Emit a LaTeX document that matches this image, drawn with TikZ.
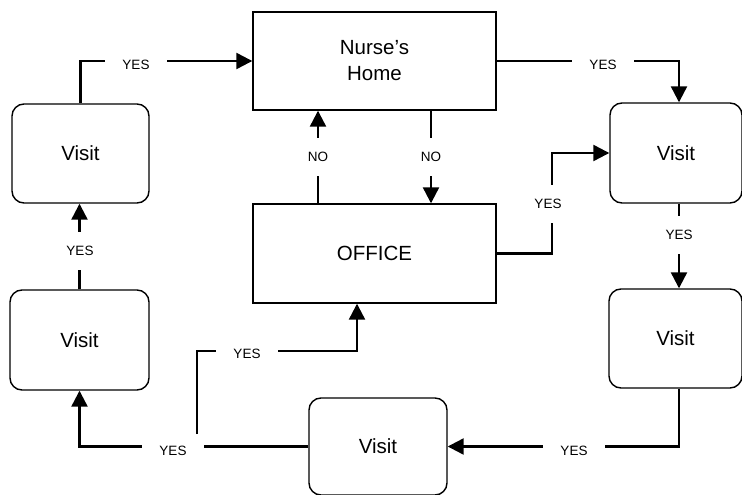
\documentclass[tikz,border=0pt]{standalone}
\usepackage{fontspec}
\setmainfont{Liberation Sans}
\usetikzlibrary{arrows.meta}
\begin{document}
\begin{tikzpicture}[x=1pt,y=-1pt,
  box/.style={draw,line width=1.4pt,inner sep=0pt,align=center,font=\fontsize{20.5}{26}\selectfont},
  rbox/.style={box,rounded corners=12pt},
  conn/.style={line width=2.3pt},
  arr/.style={conn,-{Triangle[length=16pt,width=16pt]}},
  hlab/.style={fill=white,inner xsep=17pt,inner ysep=1pt,font=\fontsize{13.5}{16}\selectfont},
  vlab/.style={fill=white,inner xsep=1pt,inner ysep=14pt,font=\fontsize{13.5}{16}\selectfont},
]
\useasboundingbox (0,0) rectangle (742,495);
% boxes
\node[box,minimum width=243pt,minimum height=98pt] (home) at (374.5,61) {Nurse's\\Home};
\node[box,minimum width=243pt,minimum height=99pt] (office) at (374.5,253.5) {OFFICE};
\node[rbox,minimum width=137pt,minimum height=99pt] (v1) at (80.5,153.5) {Visit};
\node[rbox,minimum width=139pt,minimum height=100pt] (v2) at (79.5,340) {Visit};
\node[rbox,minimum width=132pt,minimum height=100pt] (v3) at (676,153) {Visit};
\node[rbox,minimum width=133pt,minimum height=99pt] (v4) at (675.5,338.5) {Visit};
\node[rbox,minimum width=138pt,minimum height=97pt] (v5) at (378,446.5) {Visit};
% helper coordinates
\coordinate (b0) at (197,434);
\coordinate (b1) at (357,351);
% connectors
\draw[arr] (v1.north) |- (home.west);
\draw[arr] (home.east) -| ([xshift=3pt]v3.north);
\draw[arr] ([xshift=56.5pt]home.south) -- ([xshift=56.5pt]office.north);
\draw[arr] ([xshift=-56.5pt]office.north) -- ([xshift=-56.5pt]home.south);
\draw[arr] (office.east) -- ++(55,0) |- (v3.west);
\draw[arr] ([xshift=3pt]v3.south) -- ([xshift=3pt]v3.south |- v4.north);
\draw[arr] ([xshift=3.5pt]v4.south) |- (v5.east);
\draw[arr] (v5.west) -| (v2.south);
\draw[arr] (b0) |- (b1) -- (b1 |- office.south);
\draw[arr] (v2.north) -- (v2.north |- v1.south);
% labels
\node[hlab] (l1) at (136,65) {YES};
\node[hlab] (l2) at (603,65) {YES};
\node[vlab] (l3) at (318,157) {NO};
\node[vlab] (l4) at (431,157) {NO};
\node[vlab] (l5) at (548,204) {YES};
\node[vlab] (l6) at (679,235) {YES};
\node[hlab] (l7) at (574,451) {YES};
\node[hlab] (l8) at (173,451) {YES};
\node[hlab] (l9) at (247,354) {YES};
\node[vlab] (l10) at (80,251) {YES};
\end{tikzpicture}
\end{document}
